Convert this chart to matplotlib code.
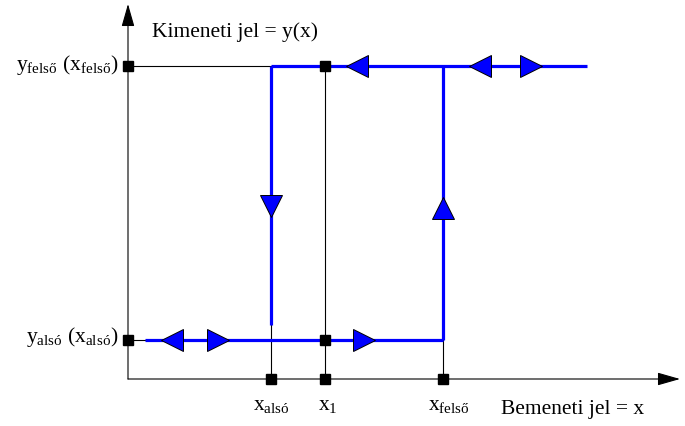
import matplotlib.pyplot as plt

# switching thresholds (input) and output levels, origin at the axes corner
x_also, x_1, x_felso = 143, 197, 315
y_also, y_felso = 39, 313
x_start, x_end = 17, 459

# direction markers along the loop
low_left = [43.5]
low_right = [89.5, 236]
up_left = [228.5, 352]
up_right = [403]
down_pos = [173]     # on x_also
up_pos = [171.5]     # on x_felso

# labelled points
sq_x = [0, 0, x_1, x_1, x_also, x_1, x_felso]
sq_y = [y_felso, y_also, y_felso, y_also, 0, 0, 0]

BLUE = '#0000ff'


def main():
    plt.rcParams['font.family'] = ['Liberation Serif', 'DejaVu Serif']
    plt.rcParams['mathtext.fontset'] = 'custom'
    plt.rcParams['mathtext.rm'] = 'Liberation Serif'

    fig = plt.figure(figsize=(6.85, 4.27), dpi=100)
    ax = fig.add_axes([0, 0, 1, 1])
    ax.set_xlim(-128, 557)
    ax.set_ylim(-47, 380)
    ax.axis('off')

    k = dict(color='black', lw=0.8, zorder=1)
    # axes with arrow heads
    ap = dict(arrowstyle='-|>,head_length=1.4,head_width=0.4', color='black',
              lw=0.8, shrinkA=0, shrinkB=0)
    ax.annotate('', xy=(0, 375), xytext=(0, 0), arrowprops=ap)
    ax.annotate('', xy=(552, 0), xytext=(0, 0), arrowprops=ap)

    # guide lines
    ax.plot([0, x_1], [y_felso, y_felso], **k)
    ax.plot([0, x_1], [y_also, y_also], **k)
    ax.plot([x_1, x_1], [0, y_felso], **k)
    ax.plot([x_also, x_also], [0, 54], **k)
    ax.plot([x_felso, x_felso], [0, y_also], **k)

    # hysteresis loop
    b = dict(color=BLUE, lw=2.3, zorder=2, solid_capstyle='butt')
    ax.plot([x_start, x_felso], [y_also, y_also], **b)
    ax.plot([x_felso, x_felso], [y_also, y_felso], **b)
    ax.plot([x_also, x_end], [y_felso, y_felso], **b)
    ax.plot([x_also, x_also], [y_felso, 54], **b)

    m = dict(ls='none', ms=16.5, mfc=BLUE, mec='black', mew=0.7, zorder=3)
    ax.plot(low_left, [y_also] * len(low_left), marker='<', **m)
    ax.plot(low_right, [y_also] * len(low_right), marker='>', **m)
    ax.plot(up_left, [y_felso] * len(up_left), marker='<', **m)
    ax.plot(up_right, [y_felso] * len(up_right), marker='>', **m)
    ax.plot([x_also] * len(down_pos), down_pos, marker='v', **m)
    ax.plot([x_felso] * len(up_pos), up_pos, marker='^', **m)

    ax.plot(sq_x, sq_y, ls='none', marker='s', ms=6.5, color='black', zorder=4)

    fs = 15.5
    ax.text(24, 343, 'Kimeneti jel = y(x)', fontsize=fs, va='baseline')
    ax.text(-10, y_felso - 3, 'y$_{\\mathrm{felső}}$ (x$_{\\mathrm{felső}}$)',
            fontsize=fs, ha='right', va='baseline')
    ax.text(-10, y_also - 1, 'y$_{\\mathrm{alsó}}$ (x$_{\\mathrm{alsó}}$)',
            fontsize=fs, ha='right', va='baseline')
    ax.text(x_also, -30, 'x$_{\\mathrm{alsó}}$', fontsize=fs, ha='center', va='baseline')
    ax.text(x_1 + 3, -30, 'x$_1$', fontsize=fs, ha='center', va='baseline')
    ax.text(x_felso + 6, -30, 'x$_{\\mathrm{felső}}$', fontsize=fs, ha='center', va='baseline')
    ax.text(373, -34, 'Bemeneti jel = x', fontsize=fs, va='baseline')

    fig.savefig('out.png', dpi=100)


if __name__ == '__main__':
    main()
